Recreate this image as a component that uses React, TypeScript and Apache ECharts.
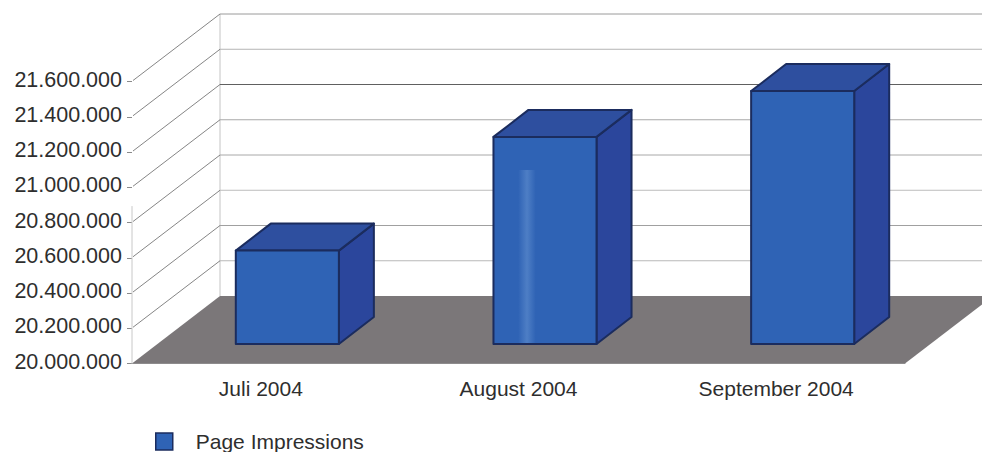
import React, { useEffect, useRef } from "react";
import * as echarts from "echarts";

const categories = ["Juli 2004", "August 2004", "September 2004"];
const seriesName = "Page Impressions";
const pageImpressions = [20530000, 21175000, 21435000];
const yTicks = [20000000, 20200000, 20400000, 20600000, 20800000, 21000000, 21200000, 21400000, 21600000];
const yMin = 20000000;
const yMax = 21600000;
const yStep = 200000;
const frontEdgeTopValue = 20893000;
const gridShades = ["#7b7779", "#b8b8b8", "#a0a0a0", "#bcbcbc", "#a8a8a8", "#a8a8a8", "#606060", "#b4b4b4", "#9a9a9a"];

const FONT = '"Liberation Sans", Arial, sans-serif';
const TEXT = "#2e2e2e";
const WALL_DX = 88;
const WALL_DY = -67.5;
const BAR_DX = 26.5;
const BAR_DY = -19.5;
const BAR_DEPTH_X = 35;
const BAR_DEPTH_Y = -27;
const FRONT = "#2f63b5";
const SIDE = "#2b469c";
const TOP = "#2e4f9f";
const EDGE = "#1b2c5e";

const formatValue = (v: number) => "{v|" + String(v).replace(/\B(?=(\d{3})+$)/g, ".") + "}";

const renderWall = (params: any, api: any) => {
  const cs = params.coordSys;
  const v = api.value(1);
  const y = api.coord([0, v])[1];
  const left = cs.x;
  const right = cs.x + cs.width;
  const children: any[] = [];
  if (params.dataIndex === 0) {
    const yTop = api.coord([0, yMax])[1];
    const yEdge = api.coord([0, frontEdgeTopValue])[1];
    children.push(
      {
        type: "polygon",
        shape: {
          points: [
            [left, y],
            [right, y],
            [right + WALL_DX, y + WALL_DY],
            [left + WALL_DX, y + WALL_DY],
          ],
        },
        style: { fill: "#7b7779", stroke: "none" },
      },
      {
        type: "line",
        shape: { x1: left + WALL_DX, y1: yTop + WALL_DY, x2: left + WALL_DX, y2: y + WALL_DY },
        style: { stroke: "#c4c4c4", lineWidth: 1 },
      },
      {
        type: "line",
        shape: { x1: left, y1: yEdge, x2: left, y2: y },
        style: { stroke: "#c8c8c8", lineWidth: 1 },
      }
    );
  } else {
    children.push(
      {
        type: "line",
        shape: { x1: left + 1, y1: y - 1, x2: left + WALL_DX, y2: y + WALL_DY },
        style: { stroke: "#666666", lineWidth: 0.8 },
      },
      {
        type: "line",
        shape: { x1: left + WALL_DX, y1: y + WALL_DY, x2: right + WALL_DX, y2: y + WALL_DY },
        style: { stroke: gridShades[params.dataIndex], lineWidth: 1 },
      }
    );
  }
  return { type: "group", children };
};

const renderBar = (params: any, api: any) => {
  const i = api.value(0);
  const v = api.value(1);
  const w = api.size([1, 0])[0] * 0.4;
  const cx = api.coord([i, v])[0] + BAR_DX;
  const x0 = cx - w / 2;
  const x1 = cx + w / 2;
  const top = api.coord([i, v])[1] + BAR_DY;
  const bottom = api.coord([i, yMin])[1] + BAR_DY;
  const edge = { stroke: EDGE, lineWidth: 2, lineJoin: "round" };
  const children: any[] = [
    {
      type: "polygon",
      shape: {
        points: [
          [x1, top],
          [x1 + BAR_DEPTH_X, top + BAR_DEPTH_Y],
          [x1 + BAR_DEPTH_X, bottom + BAR_DEPTH_Y],
          [x1, bottom],
        ],
      },
      style: { fill: SIDE, ...edge },
    },
    {
      type: "polygon",
      shape: {
        points: [
          [x0, top],
          [x0 + BAR_DEPTH_X, top + BAR_DEPTH_Y],
          [x1 + BAR_DEPTH_X, top + BAR_DEPTH_Y],
          [x1, top],
        ],
      },
      style: { fill: TOP, ...edge },
    },
    {
      type: "rect",
      shape: { x: x0, y: top, width: w, height: bottom - top },
      style: { fill: FRONT, ...edge },
    },
  ];
  if (params.dataIndex === 1) {
    const streakTop = top + (bottom - top) * 0.16;
    children.push({
      type: "rect",
      shape: { x: x0 + w * 0.24, y: streakTop, width: w * 0.17, height: bottom - streakTop - 1 },
      style: {
        fill: new echarts.graphic.LinearGradient(0, 0, 1, 0, [
          { offset: 0, color: "rgba(150,190,235,0)" },
          { offset: 0.5, color: "rgba(150,190,235,0.3)" },
          { offset: 1, color: "rgba(150,190,235,0)" },
        ]),
      },
    });
  }
  return { type: "group", children };
};

export default function App() {
  const ref = useRef<HTMLDivElement>(null);
  useEffect(() => {
    const chart = echarts.init(ref.current!, undefined, { renderer: "svg" });
    chart.setOption({
      animation: false,
      backgroundColor: "#ffffff",
      textStyle: { fontFamily: FONT },
      grid: { left: 132, right: 77, top: 81.5, bottom: 88.5 },
      legend: {
        data: [seriesName],
        left: 155,
        top: 431,
        padding: 0,
        icon: "rect",
        itemWidth: 17,
        itemHeight: 17,
        itemGap: 0,
        itemStyle: { color: FRONT, borderColor: EDGE, borderWidth: 1.5 },
        textStyle: { fontFamily: FONT, fontSize: 21, color: TEXT, padding: [0, 0, 0, 18] },
      },
      xAxis: {
        type: "category",
        data: categories,
        axisLine: { lineStyle: { color: "#a0a0a0", width: 1 } },
        axisTick: { length: 6, lineStyle: { color: "#b5b5b5" } },
        axisLabel: { fontFamily: FONT, fontSize: 21, color: TEXT, margin: 14 },
      },
      yAxis: {
        type: "value",
        min: yMin,
        max: yMax,
        interval: yStep,
        splitLine: { show: false },
        axisLine: { show: false },
        axisTick: { show: true, length: 5, lineStyle: { color: "#8a8a8a" } },
        axisLabel: {
          margin: 10,
          formatter: formatValue,
          rich: {
            v: { fontFamily: FONT, fontSize: 21.5, color: TEXT, padding: [0, 0, 4, 0] },
          },
        },
      },
      series: [
        {
          type: "custom",
          name: "Walls",
          z: 1,
          silent: true,
          renderItem: renderWall,
          encode: { x: 0, y: 1 },
          data: yTicks.map((v) => [0, v]),
        },
        {
          type: "custom",
          name: seriesName,
          z: 3,
          silent: true,
          renderItem: renderBar,
          encode: { x: 0, y: 1 },
          itemStyle: { color: FRONT },
          data: pageImpressions.map((v, i) => [i, v]),
        },
      ],
    });
    return () => chart.dispose();
  }, []);
  return <div ref={ref} style={{ position: "absolute", left: 0, top: 0, width: 982, height: 452 }} />;
}
